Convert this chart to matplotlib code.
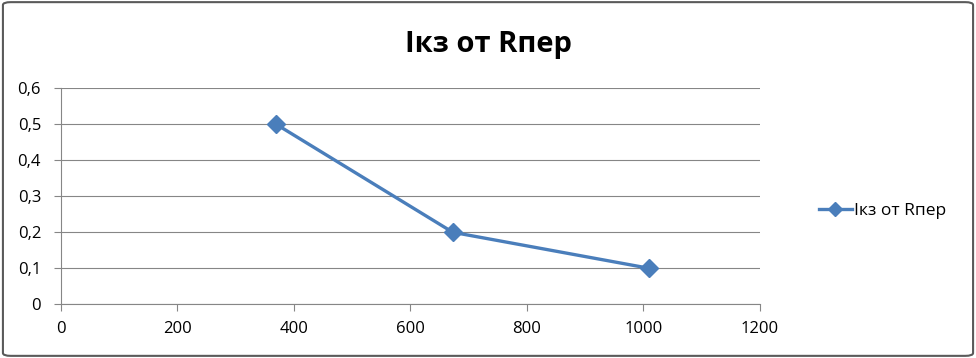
import matplotlib
matplotlib.use("Agg")
import matplotlib.pyplot as plt
from matplotlib.patches import FancyBboxPatch
from matplotlib.ticker import FuncFormatter

# data
r_per = [370, 673, 1010]
i_kz = [0.5, 0.2, 0.1]
series_name = "Iкз от Rпер"
title = "Iкз от Rпер"

plt.rcParams["font.family"] = ["Open Sans", "DejaVu Sans"]

fig = plt.figure(figsize=(9.76, 3.58), dpi=100)
ax = fig.add_axes([0.062, 0.15, 0.7167, 0.6034])

blue = "#4a7ebb"
grid_c = "#868686"

ax.plot(r_per, i_kz, color=blue, linewidth=2.4, marker="D", markersize=9,
        label=series_name)

ax.set_xlim(0, 1200)
ax.set_ylim(0, 0.6)
ax.set_xticks(range(0, 1201, 200))
ax.set_yticks([0, 0.1, 0.2, 0.3, 0.4, 0.5, 0.6])
ax.yaxis.set_major_formatter(FuncFormatter(
    lambda v, _: "0" if v == 0 else f"{v:.1f}".replace(".", ",")))
ax.yaxis.grid(True, color=grid_c, linewidth=0.8)
ax.set_axisbelow(True)

for s in ("top", "right"):
    ax.spines[s].set_visible(False)
for s in ("left", "bottom"):
    ax.spines[s].set_color(grid_c)
    ax.spines[s].set_linewidth(0.8)
ax.tick_params(axis="both", colors=grid_c, length=5, width=0.8, labelsize=12)
for lbl in ax.get_xticklabels() + ax.get_yticklabels():
    lbl.set_color("black")
ax.tick_params(axis="x", pad=7)
ax.tick_params(axis="y", pad=9)

fig.text(0.5, 0.875, title, ha="center", va="center", fontsize=21,
         fontweight="bold")

fig.legend(loc="center left", bbox_to_anchor=(0.823, 0.41), frameon=False,
           fontsize=12.5, handlelength=1.9, handletextpad=0.1, markerscale=0.75)

border = FancyBboxPatch((0.003, 0.006), 0.994, 0.988,
                        boxstyle="round,pad=0,rounding_size=0.008",
                        transform=fig.transFigure, facecolor="none",
                        edgecolor="#5a5a5a", linewidth=1.5)
fig.patches.append(border)

fig.savefig("out.png", dpi=100)
